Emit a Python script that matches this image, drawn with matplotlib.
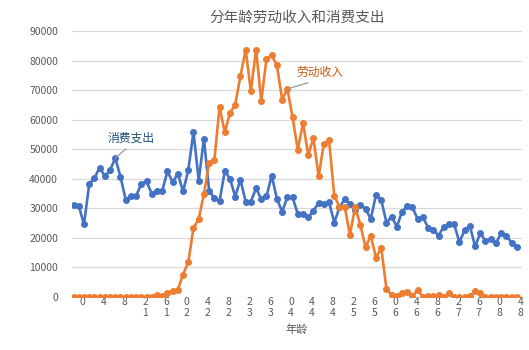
import matplotlib
matplotlib.use('Agg')
import matplotlib.pyplot as plt
import matplotlib.transforms as mtransforms

plt.rcParams['font.family'] = ['Noto Sans CJK SC', 'DejaVu Sans']

# ages 0..85
ages = list(range(86))

consumption = [
    31000, 30800, 24600, 38200, 40200, 43800, 40900, 42900, 47000, 40700,
    32900, 34200, 34200, 38300, 39100, 34900, 35900, 35900, 42500, 38900,
    41700, 35700, 42900, 55900, 39400, 53600, 36000, 33400, 32500, 42600,
    40000, 34000, 39700, 32300, 32300, 36800, 33100, 34100, 41100, 33200,
    28900, 33700, 33700, 28100, 28000, 26900, 29200, 31800, 31400, 32100,
    25200, 30300, 33100, 31500, 29500, 31200, 29800, 26400, 34600, 32900,
    25200, 27200, 23800, 28900, 30800, 30300, 26300, 27000, 23500, 22700,
    20800, 23800, 24600, 24600, 18500, 22700, 24100, 17100, 21600, 19000,
    19700, 18200, 21600, 20700, 18400, 16800,
]

labor_income = [
    0, 0, 0, 0, 0, 0, 0, 0, 0, 0,
    0, 0, 0, 0, 0, 0, 700, 200, 1500, 2000,
    2500, 7600, 11800, 23300, 26400, 34900, 45300, 46200, 64300, 55700,
    62300, 65100, 74700, 83700, 69700, 83700, 66300, 80600, 81800, 78400,
    66800, 70400, 60800, 49800, 58900, 48100, 53800, 40800, 51900, 53000,
    34200, 30500, 30500, 21000, 30500, 24400, 16800, 20800, 13200, 16700,
    2800, 700, 400, 1300, 1700, 400, 2300, 0, 200, 400,
    700, 0, 1400, 0, 0, 0, 300, 2000, 1500, 0,
    0, 0, 0, 0, 0, 0,
]

tick_ages = list(range(0, 86, 4))
tick_labels = ['\n'.join(reversed(str(a))) for a in tick_ages]

blue = '#4472C4'
orange = '#ED7D31'
gray = '#595959'

fig = plt.figure(figsize=(5.29, 3.5), dpi=100)
ax = fig.add_axes([72 / 529, 53 / 350, 450 / 529, 266 / 350])

ax.plot(ages, consumption, color=blue, lw=1.9, marker='o', ms=4, zorder=3)
ax.plot(ages, labor_income, color=orange, lw=1.9, marker='o', ms=4, zorder=4)

ax.set_xlim(-0.3, 86.0)
ax.set_ylim(0, 90000)
ax.set_yticks(range(0, 90001, 10000))
ax.yaxis.grid(True, color='#D9D9D9', lw=0.9)
ax.set_axisbelow(True)
for s in ax.spines.values():
    s.set_visible(False)

ax.tick_params(axis='y', length=0, pad=10, labelsize=7.5, labelcolor=gray)
ax.tick_params(axis='x', length=0, pad=0, labelsize=7.5, labelcolor=gray)
ax.set_xticks(tick_ages)
ax.set_xticklabels(tick_labels, linespacing=1.15)
# labels sit a bit to the right of their category
offset = mtransforms.ScaledTranslation(9 / 100, 0, fig.dpi_scale_trans)
for lbl in ax.get_xticklabels():
    lbl.set_transform(lbl.get_transform() + offset)

ax.set_xlabel('年龄', fontsize=8, color=gray, labelpad=4)
ax.set_title('分年龄劳动收入和消费支出', fontsize=10.5, color=gray, pad=7)

# data labels with leader lines
leader = dict(arrowstyle='-', color='#999999', lw=0.9,
              relpos=(0.5, 0), shrinkA=2, shrinkB=0)
ax.annotate('消费支出', xy=(8, consumption[8]), xytext=(11.1, 53900),
            fontsize=8.5, color='#1F4E79', ha='center', va='center',
            arrowprops=leader, zorder=5)
ax.annotate('劳动收入', xy=(41, labor_income[41]), xytext=(47.3, 75900),
            fontsize=8.5, color='#C55A11', ha='center', va='center',
            arrowprops=leader, zorder=5)

fig.savefig('out.png', dpi=100)
